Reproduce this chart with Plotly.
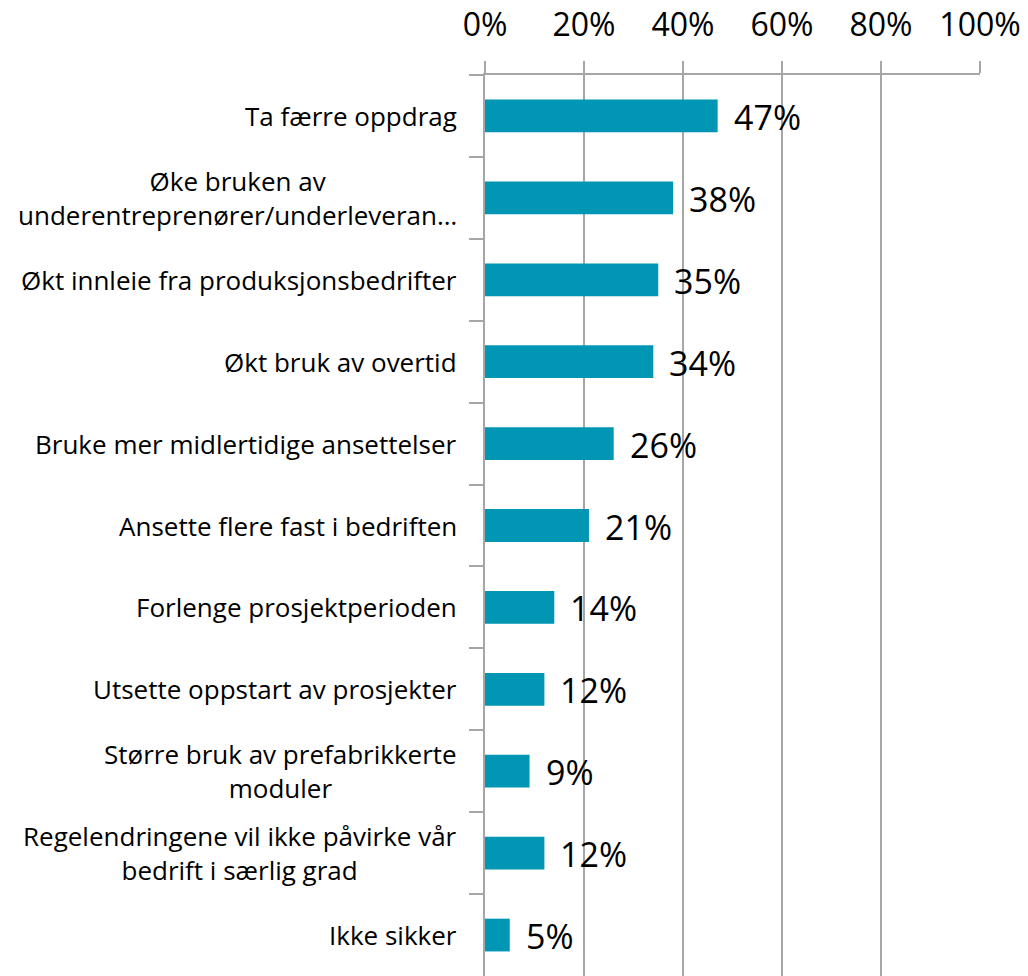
import plotly.graph_objects as go

categories = [
    "Ta færre oppdrag",
    "Øke bruken av<br>underentreprenører/underleveran…",
    "Økt innleie fra produksjonsbedrifter",
    "Økt bruk av overtid",
    "Bruke mer midlertidige ansettelser",
    "Ansette flere fast i bedriften",
    "Forlenge prosjektperioden",
    "Utsette oppstart av prosjekter",
    "Større bruk av prefabrikkerte<br>moduler",
    "Regelendringene vil ikke påvirke vår<br>bedrift i særlig grad",
    "Ikke sikker",
]
values = [0.47, 0.38, 0.35, 0.34, 0.26, 0.21, 0.14, 0.12, 0.09, 0.12, 0.05]
x_ticks = [0, 0.2, 0.4, 0.6, 0.8, 1.0]
x_tick_labels = ["0%", "20%", "40%", "60%", "80%", "100%"]

BAR = "#0096B4"
GRID = "#A6A6A6"
FONT = "Open Sans"

fig = go.Figure()
fig.add_trace(go.Bar(
    x=values, y=categories, orientation="h",
    marker=dict(color=BAR, line=dict(width=0)),
    hoverinfo="skip",
))

annotations = []
for c, v in zip(categories, values):
    annotations.append(dict(
        x=0, y=c, xref="x", yref="y", text=c, showarrow=False,
        xanchor="right", yanchor="middle", align="center", xshift=-26,
        font=dict(family=FONT, size=26, color="#000"),
    ))
    annotations.append(dict(
        x=v, y=c, xref="x", yref="y", text=f"{round(v*100)}%", showarrow=False,
        xanchor="left", yanchor="middle", xshift=14, yshift=-1,
        font=dict(family=FONT, size=34, color="#000"),
    ))

fig.update_layout(
    width=1028, height=976,
    margin=dict(l=485, r=48, t=75, b=0, autoexpand=False),
    paper_bgcolor="white", plot_bgcolor="white",
    showlegend=False, bargap=0.6,
    annotations=annotations,
    xaxis=dict(
        side="top", range=[0, 1], tickvals=x_ticks, ticktext=x_tick_labels,
        showgrid=True, gridcolor=GRID, gridwidth=2,
        showline=True, linecolor=GRID, linewidth=2,
        ticks="outside", ticklen=12, tickcolor=GRID, tickwidth=2,
        ticklabelstandoff=12, automargin=False,
        zeroline=False,
        tickfont=dict(family=FONT, size=32, color="#000"),
        fixedrange=True,
    ),
    yaxis=dict(
        type="category", autorange="reversed", automargin=False,
        showline=True, linecolor=GRID, linewidth=2,
        ticks="outside", ticklen=14, tickcolor=GRID, tickwidth=2,
        tickson="boundaries", showticklabels=False, showgrid=False,
        fixedrange=True,
    ),
)

fig.write_html(
    "out.html",
    config={"displayModeBar": False},
    post_script="document.body.style.margin='0';document.body.style.overflow='hidden';",
)
